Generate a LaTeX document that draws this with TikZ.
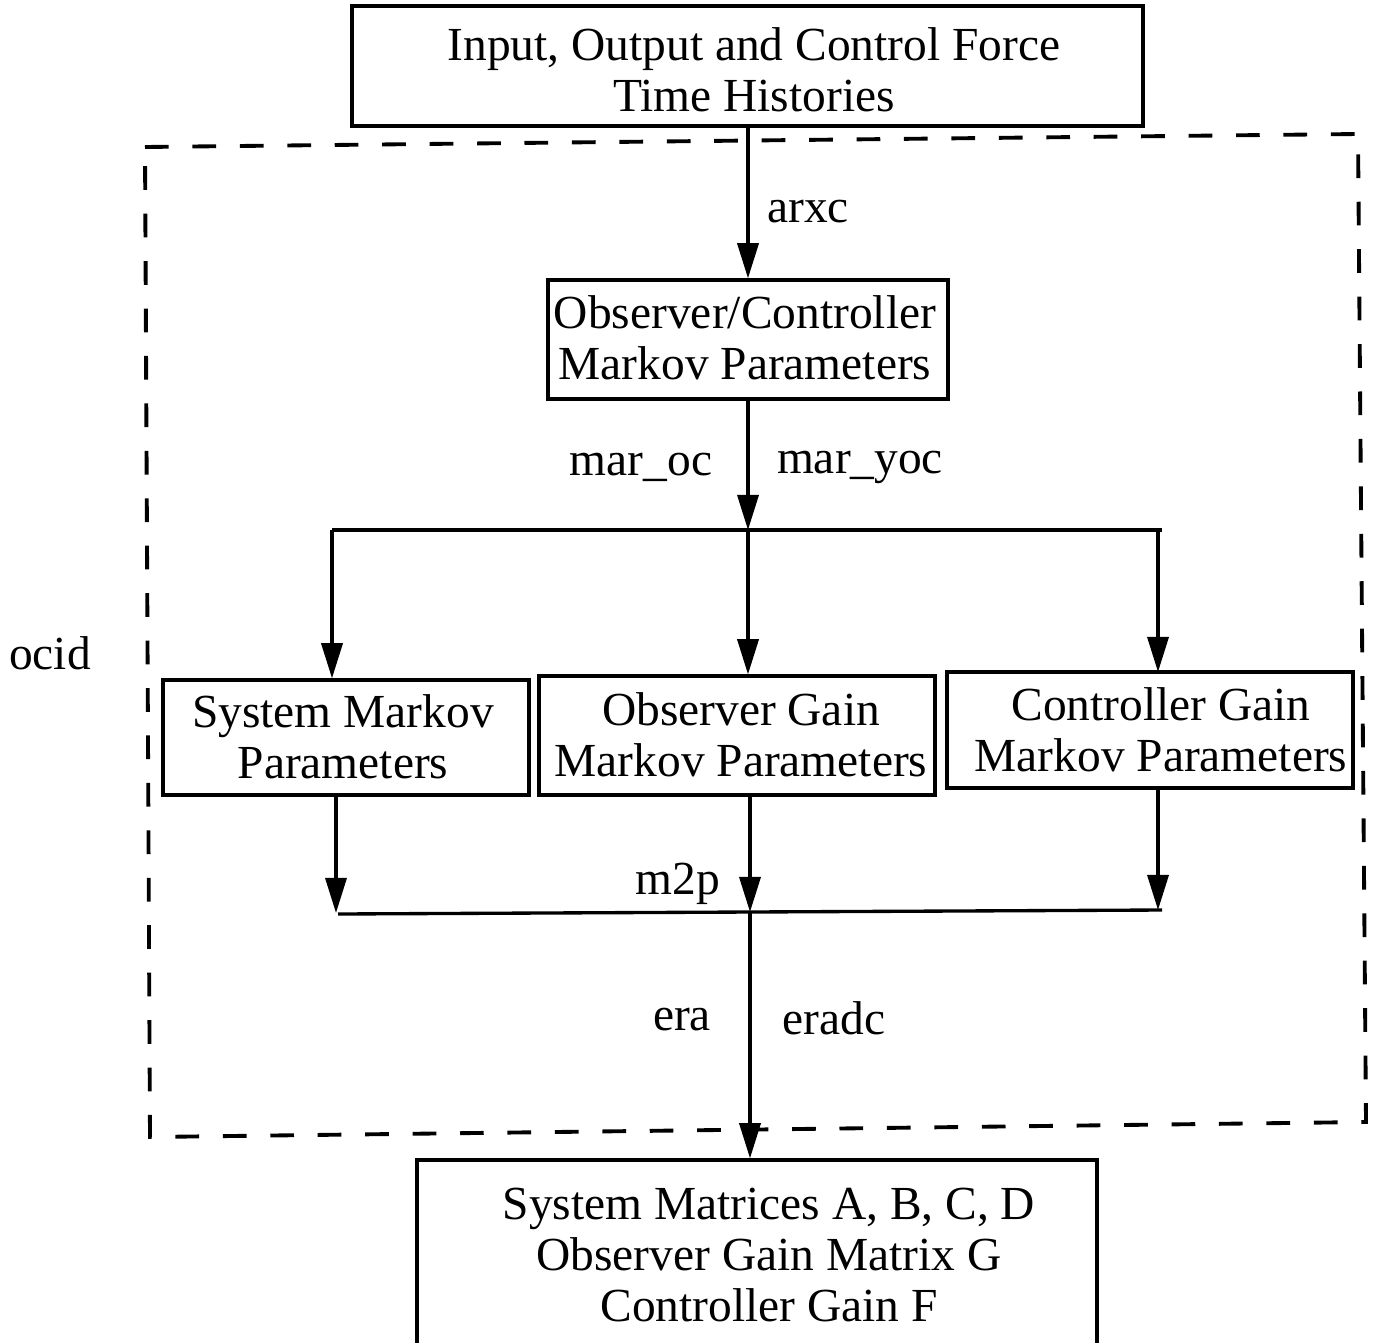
\documentclass[tikz,border=0pt]{standalone}
\usepackage{fontspec}
\setmainfont{Liberation Serif}
\usetikzlibrary{arrows.meta}
\begin{document}
\begin{tikzpicture}[x=0.02cm,y=-0.02cm,
  line width=1.9pt,
  txt/.style={font=\fontsize{27}{29}\selectfont, inner sep=0pt},
  box/.style={draw, line width=1.9pt, inner sep=0pt},
  btxt/.style={txt, align=center},
  arr/.style={-{Triangle[length=20pt,width=12pt]}},
  dashbox/.style={line width=2.2pt, dash pattern=on 13.5pt off 13.5pt}]
\useasboundingbox (0,0) rectangle (1375,1342);
% boxes
\node[box, minimum width=15.82cm, minimum height=2.4cm] (top) at (747.5,66) {};
\node[btxt] (topt) at (754,70) {Input, Output and Control Force\\Time Histories};
\node[box, minimum width=8cm, minimum height=2.38cm] (oc) at (748,339.5) {};
\node[btxt] (oct) at (745,338) {Observer/Controller\\Markov Parameters};
\node[box, minimum width=7.32cm, minimum height=2.3cm] (sys) at (346,737.5) {};
\node[btxt] (syst) at (343,737) {System Markov\\Parameters};
\node[box, minimum width=7.92cm, minimum height=2.38cm] (obs) at (737,735.5) {};
\node[btxt] (obst) at (741,735) {Observer Gain\\Markov Parameters};
\node[box, minimum width=8.12cm, minimum height=2.32cm] (ctl) at (1150,730) {};
\node[btxt] (ctlt) at (1161,730) {Controller Gain\\Markov Parameters};
\node[box, minimum width=13.6cm, minimum height=3.72cm] (res) at (757,1253) {};
\node[btxt] (rest) at (769,1255) {System Matrices A, B, C, D\\Observer Gain Matrix G\\Controller Gain F};
% dashed frame
\coordinate (d1) at (145,147);
\coordinate (d2) at (1358,134);
\coordinate (d3) at (1366,1122);
\coordinate (d4) at (150,1137);
\draw[dashbox] (d1) -- (d2) -- (d3) -- (d4) -- cycle;
% junction coordinates
\coordinate (j1) at (748,530);
\coordinate (jl) at (332,530);
\coordinate (jr) at (1162,530);
\coordinate (k1) at (750,912);
\coordinate (kl) at (338,914);
\coordinate (kr) at (1162,910);
% connectors
\draw[arr] (top.south -| oc.north) -- (oc.north);
\draw[arr] (oc.south -| j1) -- (j1);
\draw (jl) -- (jr);
\draw[arr] (jl) -- (jl |- sys.north);
\draw[arr] (j1) -- (j1 |- obs.north);
\draw[arr] (1158,530) -- (1158,672);
\draw[arr] (336,795) -- (336,913);
\draw[arr] (750,793) -- (k1);
\draw[arr] (1158,789) -- (1158,910);
\draw (kl) -- (kr);
\draw[arr] (k1) -- (k1 |- res.north);
% labels
\node[txt] (l1) at (808,212) {arxc};
\node[txt] (l2) at (641,467) {mar\_oc};
\node[txt] (l3) at (860,467) {mar\_yoc};
\node[txt] (l4) at (678,884) {m2p};
\node[txt] (l5) at (682,1020) {era};
\node[txt] (l6) at (834,1018) {eradc};
\node[txt] (l7) at (50,653) {ocid};
\end{tikzpicture}
\end{document}
